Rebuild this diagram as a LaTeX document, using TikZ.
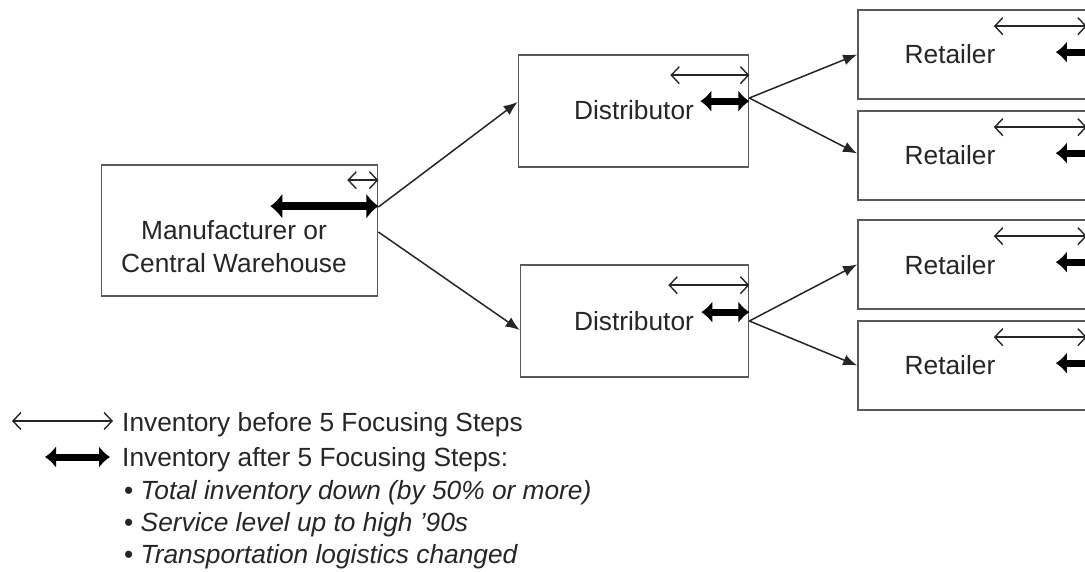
\documentclass[tikz,border=0pt]{standalone}
\usepackage{fontspec}
\setmainfont{Liberation Sans}
\usetikzlibrary{arrows.meta}
\begin{document}
\begin{tikzpicture}[x=1pt,y=-1pt,
  box/.style={draw=black!65, line width=1.7pt, fill=white, inner sep=0pt},
  lbl/.style={font=\fontsize{26.3}{33}\selectfont, text=black!85, inner sep=0pt},
  flow/.style={draw=black!85, line width=1.5pt, -{Latex[length=14pt,width=11pt]}},
  before/.style={draw=black!85, line width=1.4pt,
    {Straight Barb[length=8pt,width=17pt]}-{Straight Barb[length=8pt,width=17pt]}},
  after/.style={draw=black, line width=8.5pt,
    {Latex[length=12pt,width=26pt]}-{Latex[length=12pt,width=26pt]}},
  aftersmall/.style={draw=black, line width=7pt,
    {Latex[length=11pt,width=22pt]}-{Latex[length=11pt,width=22pt]}},
]
\useasboundingbox (0,0) rectangle (1085,571);
\clip (0,0) rectangle (1085,571);

% boxes
\node[box, minimum width=276pt, minimum height=131pt] (mfr) at (239.5,230.5) {};
\node[box, minimum width=230pt, minimum height=112pt] (dist1) at (633.5,111) {};
\node[box, minimum width=228pt, minimum height=112pt] (dist2) at (634.5,321) {};
\node[box, minimum width=247pt, minimum height=89pt] (ret1) at (981.5,54.5) {};
\node[box, minimum width=247pt, minimum height=89pt] (ret2) at (981.5,155.5) {};
\node[box, minimum width=247pt, minimum height=89pt] (ret3) at (981.5,264.5) {};
\node[box, minimum width=247pt, minimum height=89pt] (ret4) at (981.5,365.5) {};

% box texts
\node[lbl, align=center] (mfrtxt) at (234,247) {Manufacturer or\\Central Warehouse};
\node[lbl] (dist1txt) at (634,110) {Distributor};
\node[lbl] (dist2txt) at (634,321) {Distributor};
\node[lbl] (ret1txt) at (950,54) {Retailer};
\node[lbl] (ret2txt) at (950,155) {Retailer};
\node[lbl] (ret3txt) at (950,265) {Retailer};
\node[lbl] (ret4txt) at (950,365) {Retailer};

% inventory before / after in each box
\draw[before] ([xshift=-31pt,yshift=-16pt]mfr.north east) -- ([yshift=-16pt]mfr.north east);
\draw[after] ([xshift=-108pt,yshift=-42pt]mfr.north east) -- ([yshift=-42pt]mfr.north east);

\draw[before] ([xshift=-79pt,yshift=-21pt]dist1.north east) -- ([yshift=-21pt]dist1.north east);
\draw[aftersmall] ([xshift=-49pt,yshift=-47pt]dist1.north east) -- ([yshift=-47pt]dist1.north east);

\draw[before] ([xshift=-81pt,yshift=-21pt]dist2.north east) -- ([yshift=-21pt]dist2.north east);
\draw[aftersmall] ([xshift=-48pt,yshift=-48pt]dist2.north east) -- ([yshift=-48pt]dist2.north east);

\foreach \r in {ret1,ret2,ret3,ret4}{
  \draw[before] ([xshift=-112pt,yshift=-17pt]\r.north east) -- ([xshift=-19pt,yshift=-17pt]\r.north east);
  \draw[aftersmall] ([xshift=-50pt,yshift=-43pt]\r.north east) -- ([yshift=-43pt]\r.north east);
}

% flow connectors
\draw[flow] ([yshift=23.5pt]mfr.east) -- ([yshift=9pt]dist1.west);
\draw[flow] ([yshift=-1.5pt]mfr.east) -- ([yshift=-9pt]dist2.west);
\draw[flow] ([yshift=13pt]dist1.east) -- (ret1.west);
\draw[flow] ([yshift=13pt]dist1.east) -- ([yshift=2pt]ret2.west);
\draw[flow] (dist2.east) -- (ret3.west);
\draw[flow] (dist2.east) -- (ret4.west);

% legend
\coordinate (lb1) at (12,421);
\coordinate (lb2) at (113,421);
\coordinate (la1) at (45,457);
\coordinate (la2) at (110,457);
\draw[before] (lb1) -- (lb2);
\draw[aftersmall] (la1) -- (la2);
\node[lbl, anchor=base west] (leg1) at (122,431) {Inventory before 5 Focusing Steps};
\node[lbl, anchor=base west] (leg2) at (122,466) {Inventory after 5 Focusing Steps:};
\node[lbl, anchor=base west] (leg3) at (124,499) {•\ \itshape Total inventory down (by 50\% or more)};
\node[lbl, anchor=base west] (leg4) at (124,531) {•\ \itshape Service level up to high ’90s};
\node[lbl, anchor=base west] (leg5) at (124,563) {•\ \itshape Transportation logistics changed};
\end{tikzpicture}
\end{document}
